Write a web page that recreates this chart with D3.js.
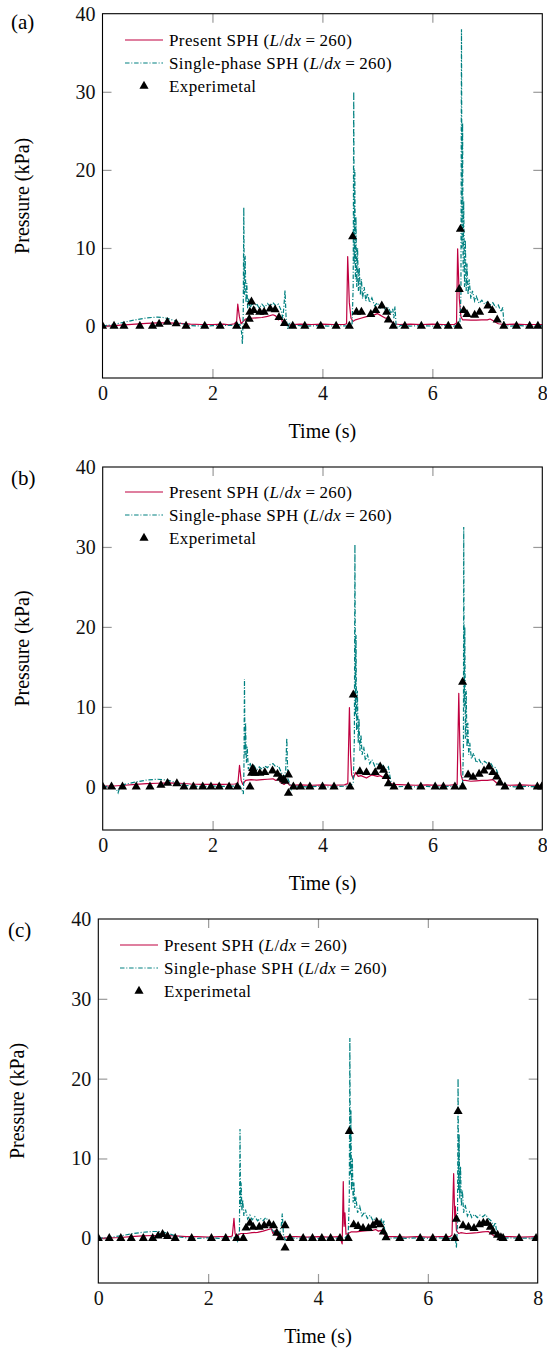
<!DOCTYPE html>
<html><head><meta charset="utf-8">
<script src="https://cdn.jsdelivr.net/npm/d3@7"></script>
<style>
body{margin:0;background:#fff;}
svg{display:block;}
svg text{font-family:"Liberation Serif","Times New Roman",serif !important;}
</style></head><body>
<svg id="chart" width="547" height="1349"></svg>
<script>
// ---------- tick labels ----------
const xTicks = [0, 2, 4, 6, 8];
const yTicks = [0, 10, 20, 30, 40];
const panelLabels = ["(a)", "(b)", "(c)"];
const xLabel = "Time (s)";
const yLabel = "Pressure (kPa)";
const seriesNames = ["Present SPH", "Single-phase SPH", "Experimetal"];

// ---------- panel (a) ----------
const presentA = [[0,0],[0.2,0.05],[0.4,0.15],[0.6,0.25],[0.8,0.35],[1.0,0.4],[1.2,0.4],[1.4,0.35],[1.6,0.25],[1.8,0.2],[2.0,0.2],[2.2,0.25],[2.3,0.15],[2.4,0.3],[2.44,0.6],[2.46,2.8],[2.49,1.2],[2.52,0.3],[2.56,0.6],[2.6,0.9],[2.7,1.0],[2.8,1.05],[2.9,1.1],[3.0,1.25],[3.1,1.45],[3.15,1.3],[3.2,0.8],[3.25,1.1],[3.28,0.3],[3.32,0.6],[3.36,0.1],[3.45,0.2],[3.6,0.25],[3.8,0.2],[4.0,0.25],[4.2,0.2],[4.4,0.2],[4.44,0.3],[4.46,8.9],[4.49,3.0],[4.52,1.0],[4.56,0.6],[4.6,0.8],[4.7,1.0],[4.8,1.2],[4.9,1.3],[5.0,1.6],[5.05,1.4],[5.1,1.2],[5.15,1.0],[5.2,1.1],[5.25,0.6],[5.3,0.3],[5.4,0.2],[5.6,0.25],[5.8,0.2],[6.0,0.25],[6.2,0.2],[6.4,0.2],[6.44,0.4],[6.46,9.9],[6.49,3.5],[6.52,1.2],[6.55,0.8],[6.6,0.8],[6.7,0.75],[6.8,0.75],[6.9,0.8],[7.0,0.8],[7.05,0.9],[7.1,0.7],[7.15,0.5],[7.2,0.3],[7.3,0.2],[7.5,0.25],[7.7,0.2],[8.0,0.2]];
const singleA = [[0,0],[0.2,0.2],[0.4,0.5],[0.6,0.8],[0.8,1.05],[1.0,1.15],[1.1,1.1],[1.2,0.95],[1.3,0.7],[1.4,0.4],[1.5,0.2],[1.6,0.05],[1.8,0],[2.0,0.05],[2.2,0.1],[2.4,0.1],[2.5,0.2],[2.53,-0.8],[2.545,-2.3],[2.56,1.5],[2.57,15.2],[2.58,4.0],[2.595,9.0],[2.61,3.0],[2.625,5.5],[2.64,2.3],[2.66,3.6],[2.68,2.2],[2.72,3.0],[2.76,2.2],[2.8,2.9],[2.85,2.3],[2.9,2.8],[2.95,2.4],[3.0,2.9],[3.05,2.5],[3.1,3.0],[3.15,2.6],[3.2,2.8],[3.25,2.0],[3.28,1.0],[3.3,2.5],[3.32,4.6],[3.34,1.0],[3.37,-0.4],[3.4,0.5],[3.45,-0.2],[3.5,0.1],[3.7,0],[3.9,0.05],[4.1,0],[4.3,0.05],[4.5,0],[4.54,0.3],[4.56,5],[4.57,30],[4.58,8],[4.59,20],[4.6,6],[4.61,14],[4.625,5],[4.64,10],[4.655,4.5],[4.67,7.5],[4.69,4],[4.71,6],[4.73,3.5],[4.76,5],[4.79,3.2],[4.82,4.2],[4.86,3.0],[4.9,3.6],[4.95,2.6],[5.0,3.0],[5.05,2.3],[5.1,2.7],[5.15,2.0],[5.2,2.4],[5.25,1.6],[5.28,2.2],[5.3,1.0],[5.32,2.5],[5.34,0.2],[5.38,-0.2],[5.42,0.1],[5.6,0],[5.8,0.05],[6.0,0],[6.2,0.05],[6.4,0],[6.5,0.2],[6.52,4],[6.53,38],[6.54,10],[6.55,26],[6.56,7],[6.57,16],[6.585,5],[6.6,11],[6.615,4.5],[6.63,8],[6.65,4],[6.67,6],[6.7,3.5],[6.73,4.5],[6.77,3.2],[6.8,3.8],[6.85,2.9],[6.9,3.3],[6.95,2.8],[7.0,3.1],[7.05,2.7],[7.1,3.0],[7.15,2.4],[7.2,2.7],[7.25,1.8],[7.28,2.4],[7.3,0.5],[7.33,0.1],[7.4,0],[7.6,0.05],[7.8,0],[8.0,0.05]];
const expA = [[0,0],[0.21,0],[0.39,0],[0.68,0],[0.91,0],[1.03,0.25],[1.18,0.5],[1.34,0.3],[1.52,0],[1.86,0],[2.14,0],[2.44,0],[2.61,0],[2.67,0.9],[2.68,1.8],[2.71,3.1],[2.75,2.0],[2.86,1.8],[2.94,1.8],[3.05,2.2],[3.14,2.1],[3.21,1.1],[3.31,0.35],[3.46,0],[3.68,0],[3.97,0],[4.25,0],[4.49,0],[4.55,11.45],[4.62,1.8],[4.71,1.8],[4.88,1.5],[4.97,2.0],[5.08,2.6],[5.17,1.8],[5.2,0.8],[5.29,0],[5.5,0],[5.8,0],[6.09,0],[6.29,0],[6.47,0],[6.49,4.7],[6.51,12.4],[6.57,2.0],[6.63,1.5],[6.77,1.4],[6.86,1.8],[7.01,2.6],[7.09,2.0],[7.18,0.8],[7.3,0],[7.53,0],[7.77,0],[7.92,0]];

// ---------- panel (b) ----------
const presentB = [[0,0.1],[0.2,0.1],[0.4,0.2],[0.6,0.3],[0.8,0.4],[1.0,0.45],[1.2,0.5],[1.4,0.45],[1.6,0.35],[1.8,0.3],[2.0,0.3],[2.2,0.3],[2.4,0.35],[2.46,0.4],[2.49,2.7],[2.52,0.8],[2.55,0.3],[2.6,0.8],[2.7,0.9],[2.8,0.85],[2.9,0.9],[3.0,0.95],[3.1,1.0],[3.15,0.8],[3.2,1.0],[3.25,0.5],[3.3,0.3],[3.35,0.6],[3.4,0.2],[3.6,0.25],[3.8,0.2],[4.0,0.25],[4.2,0.2],[4.4,0.25],[4.46,0.4],[4.49,9.9],[4.51,4],[4.53,1.5],[4.56,1.0],[4.6,1.8],[4.65,1.3],[4.7,1.4],[4.8,1.1],[4.9,1.5],[5.0,1.3],[5.05,1.4],[5.1,1.2],[5.15,1.4],[5.2,0.8],[5.25,0.4],[5.3,0.3],[5.5,0.25],[5.7,0.2],[5.9,0.25],[6.1,0.2],[6.3,0.2],[6.45,0.3],[6.48,11.7],[6.5,5],[6.52,1.5],[6.55,0.8],[6.6,0.8],[6.7,0.7],[6.8,0.75],[6.9,0.8],[7.0,0.8],[7.1,0.9],[7.15,0.6],[7.2,0.3],[7.4,0.2],[7.6,0.25],[7.8,0.2],[8.0,0.2]];
const singleB = [[0,0],[0.15,0.1],[0.25,-0.3],[0.28,-0.75],[0.32,0.1],[0.4,0.3],[0.6,0.6],[0.8,0.85],[1.0,0.95],[1.1,0.9],[1.2,0.8],[1.3,0.6],[1.4,0.4],[1.5,0.2],[1.6,0.1],[1.8,0.05],[2.0,0.1],[2.2,0.05],[2.4,0.1],[2.5,0.1],[2.54,-0.5],[2.56,-0.9],[2.57,2],[2.58,13.5],[2.59,4],[2.6,8],[2.615,3],[2.63,5],[2.65,2.2],[2.68,3.0],[2.72,2.2],[2.76,2.6],[2.8,2.1],[2.85,2.5],[2.9,2.2],[2.95,2.6],[3.0,2.4],[3.05,2.8],[3.1,2.9],[3.15,2.5],[3.2,2.6],[3.25,1.8],[3.3,1.2],[3.33,2.0],[3.35,6.1],[3.37,1.0],[3.4,0.5],[3.43,-0.3],[3.46,0.3],[3.5,0.1],[3.7,0],[3.9,0.05],[4.1,0],[4.3,0.05],[4.5,0.1],[4.56,0.5],[4.58,6],[4.59,30.3],[4.6,9],[4.61,19],[4.62,7],[4.635,12],[4.65,5.5],[4.665,8.5],[4.68,4.5],[4.7,6.5],[4.72,4],[4.75,5],[4.78,3.3],[4.82,4.0],[4.86,2.9],[4.9,3.4],[4.95,2.6],[5.0,3.0],[5.05,2.3],[5.1,2.7],[5.15,2.1],[5.2,2.5],[5.23,1.2],[5.26,0.2],[5.3,0],[5.5,0.05],[5.7,0],[5.9,0.05],[6.1,0],[6.3,0.05],[6.5,0.1],[6.55,0.5],[6.565,5],[6.57,32.5],[6.58,10],[6.59,20],[6.6,6],[6.615,12],[6.63,5],[6.645,8],[6.66,4],[6.68,5.5],[6.71,3.5],[6.75,4.2],[6.8,3.0],[6.85,3.4],[6.9,2.8],[6.95,3.2],[7.0,2.9],[7.05,3.1],[7.1,2.5],[7.15,2.4],[7.2,1.5],[7.25,0.5],[7.3,0.1],[7.5,0],[7.7,0.05],[8.0,0]];
const expB = [[0,0],[0.16,0],[0.36,0],[0.61,0],[0.86,0],[1.06,0.2],[1.18,0.45],[1.35,0.4],[1.48,0],[1.65,0],[1.82,0],[1.97,0],[2.12,0],[2.3,0],[2.45,0],[2.68,0],[2.71,1.7],[2.73,2.3],[2.77,1.7],[2.86,1.7],[2.95,1.8],[3.09,2.0],[3.18,1.6],[3.24,1.1],[3.29,0.9],[3.32,0.7],[3.38,1.5],[3.38,-0.8],[3.47,0],[3.6,0],[3.77,0],[4.0,0],[4.21,0],[4.5,0],[4.56,11.5],[4.68,1.9],[4.8,1.8],[4.96,1.8],[5.05,2.5],[5.11,2.1],[5.16,1.3],[5.2,0.4],[5.3,0],[5.56,0],[5.79,0],[6.05,0],[6.2,0],[6.41,0],[6.55,0],[6.55,13.1],[6.65,1.5],[6.74,1.2],[6.85,1.6],[6.94,2.0],[7.03,2.5],[7.1,1.8],[7.17,1.25],[7.23,0.5],[7.32,0],[7.59,0],[7.91,0],[7.99,0]];

// ---------- panel (c) ----------
const presentC = [[0,0],[0.2,0.05],[0.4,0.1],[0.6,0.2],[0.8,0.3],[1.0,0.35],[1.2,0.35],[1.4,0.3],[1.6,0.2],[1.8,0.2],[2.0,0.15],[2.2,0.2],[2.4,0.2],[2.44,0.3],[2.47,2.5],[2.49,0.6],[2.52,0.1],[2.56,0.5],[2.6,0.6],[2.7,0.6],[2.8,0.7],[2.9,0.75],[3.0,0.9],[3.1,1.1],[3.15,1.2],[3.18,0.6],[3.22,1.0],[3.26,0.3],[3.3,0.5],[3.35,0.1],[3.45,0.2],[3.6,0.2],[3.8,0.15],[4.0,0.2],[4.2,0.15],[4.4,0.2],[4.44,-0.7],[4.46,7.1],[4.475,1.5],[4.49,3.2],[4.51,0.5],[4.55,0.6],[4.6,0.8],[4.7,0.8],[4.8,0.9],[4.9,0.95],[5.0,1.0],[5.05,1.1],[5.1,0.9],[5.15,1.0],[5.2,0.5],[5.25,0.2],[5.4,0.2],[5.6,0.15],[5.8,0.2],[6.0,0.15],[6.2,0.2],[6.4,0.2],[6.44,0.4],[6.47,8.1],[6.49,2.5],[6.5,4],[6.52,1.0],[6.56,0.6],[6.6,0.7],[6.7,0.6],[6.8,0.65],[6.9,0.7],[7.0,0.8],[7.1,0.85],[7.15,0.6],[7.2,0.3],[7.3,0.2],[7.5,0.2],[7.7,0.15],[8.0,0.2]];
const singleC = [[0,0],[0.2,0.1],[0.4,0.3],[0.6,0.55],[0.8,0.75],[1.0,0.85],[1.1,0.85],[1.2,0.75],[1.3,0.55],[1.4,0.3],[1.5,0.15],[1.6,0.05],[1.8,0],[2.0,0.05],[2.2,0],[2.4,0.05],[2.5,0.1],[2.54,-0.5],[2.57,1.0],[2.58,13.7],[2.59,4.0],[2.6,7],[2.615,3.5],[2.63,4.8],[2.65,2.8],[2.68,3.6],[2.72,2.4],[2.76,2.9],[2.8,2.3],[2.85,2.7],[2.9,2.2],[2.95,2.5],[3.0,2.2],[3.05,2.6],[3.1,2.1],[3.15,1.2],[3.2,0.8],[3.25,1.0],[3.3,0.6],[3.33,1.5],[3.35,3.1],[3.37,0.5],[3.4,-0.2],[3.45,0.1],[3.6,0],[3.8,0.05],[4.0,0],[4.2,0.05],[4.4,0],[4.5,0.1],[4.55,0.5],[4.57,5],[4.58,25.1],[4.59,8],[4.6,16],[4.61,6],[4.625,10],[4.64,4.5],[4.655,7],[4.67,3.8],[4.69,5.2],[4.72,3.2],[4.76,4.0],[4.8,2.8],[4.85,3.3],[4.9,2.5],[4.95,2.9],[5.0,2.2],[5.05,2.6],[5.1,2.0],[5.15,2.4],[5.18,1.6],[5.2,2.2],[5.22,0.4],[5.26,0],[5.4,0.05],[5.6,0],[5.8,0.05],[6.0,0],[6.2,0.05],[6.4,0],[6.5,0.1],[6.52,-1.2],[6.54,2],[6.55,20],[6.56,6],[6.57,13],[6.58,5],[6.595,9],[6.61,4],[6.63,6],[6.65,3.2],[6.68,4.2],[6.72,2.8],[6.76,3.3],[6.8,2.6],[6.85,3.0],[6.9,2.6],[6.95,2.9],[7.0,2.7],[7.05,3.0],[7.1,2.5],[7.15,2.2],[7.2,1.5],[7.23,2.0],[7.26,0.3],[7.3,0],[7.5,0.05],[7.7,0],[8.0,0.05]];
const expC = [[0,0],[0.2,0],[0.41,0],[0.6,0],[0.82,0],[0.99,0],[1.09,0.3],[1.17,0.5],[1.26,0.25],[1.4,0],[1.7,0],[2.06,0],[2.32,0],[2.52,0],[2.64,0],[2.69,1.3],[2.76,1.9],[2.82,1.4],[2.93,1.4],[3.02,1.6],[3.11,1.8],[3.19,1.6],[3.25,0.65],[3.31,0.1],[3.4,1.6],[3.4,-1.2],[3.49,0],[3.73,0],[3.9,0],[4.07,0],[4.23,0],[4.4,0],[4.55,0],[4.57,13.4],[4.65,1.7],[4.73,1.5],[4.82,1.25],[4.92,1.25],[5.0,1.6],[5.07,2.0],[5.13,1.7],[5.19,0.8],[5.24,0.1],[5.49,0],[5.86,0],[6.09,0],[6.33,0],[6.49,0],[6.52,2.4],[6.55,15.9],[6.64,1.6],[6.74,1.4],[6.84,1.25],[6.94,1.7],[7.01,1.9],[7.08,1.9],[7.14,1.4],[7.19,0.8],[7.27,0.4],[7.33,0.1],[7.37,0],[7.66,0],[7.97,0]];

// ---------- drawing ----------
const RED = "#bf0040", TEAL = "#008080";
const FONT = "'Liberation Serif', 'Times New Roman', serif";
const svg = d3.select("#chart");

const panels = [
  {label: panelLabels[0], present: presentA, single: singleA, exp: expA,
   left: 102.5, right: 542.3, top: 13.7, bottom: 378, ymin: -6.65,
   labelX: 11, labelY: 29, yLabX: 22, legX: 125, legY: 40},
  {label: panelLabels[1], present: presentB, single: singleB, exp: expB,
   left: 102.7, right: 542.3, top: 467, bottom: 830, ymin: -5.4,
   labelX: 11, labelY: 485, yLabX: 22, legX: 125, legY: 492},
  {label: panelLabels[2], present: presentC, single: singleC, exp: expC,
   left: 98.3, right: 537.7, top: 919, bottom: 1283, ymin: -5.6,
   labelX: 8, labelY: 937, yLabX: 17, legX: 120, legY: 945}
];

panels.forEach((p, i) => {
  const x = d3.scaleLinear().domain([0, 8]).range([p.left, p.right]);
  const y = d3.scaleLinear().domain([p.ymin, 40]).range([p.bottom, p.top]);
  const g = svg.append("g").style("font-family", FONT);

  const clipId = "clip" + i;
  svg.append("clipPath").attr("id", clipId).append("rect")
    .attr("x", p.left).attr("y", p.top).attr("width", p.right - p.left).attr("height", p.bottom - p.top);

  // axes (ticks inside, all four sides)
  const tickLen = 9;
  const axB = g.append("g").attr("transform", `translate(0,${p.bottom})`)
    .call(d3.axisBottom(x).tickValues(xTicks).tickSizeInner(-tickLen).tickSizeOuter(0).tickPadding(8).tickFormat(d3.format("d")));
  const axT = g.append("g").attr("transform", `translate(0,${p.top})`)
    .call(d3.axisTop(x).tickValues(xTicks).tickSizeInner(-tickLen).tickSizeOuter(0).tickFormat(""));
  const axL = g.append("g").attr("transform", `translate(${p.left},0)`)
    .call(d3.axisLeft(y).tickValues(yTicks).tickSizeInner(-tickLen).tickSizeOuter(0).tickPadding(7).tickFormat(d3.format("d")));
  const axR = g.append("g").attr("transform", `translate(${p.right},0)`)
    .call(d3.axisRight(y).tickValues(yTicks).tickSizeInner(-tickLen).tickSizeOuter(0).tickFormat(""));
  [axB, axT, axL, axR].forEach(a => {
    a.attr("font-family", null).attr("font-size", null);
    a.select(".domain").remove();
    a.selectAll(".tick line").attr("stroke", "#9a9a9a").attr("stroke-width", 1.2);
    a.selectAll(".tick text").style("font-family", FONT).style("font-size", "20px").attr("fill", "#111");
  });
  axB.selectAll(".tick").filter(d => d === 0 || d === 8).select("line").remove();
  axT.selectAll(".tick").filter(d => d === 0 || d === 8).select("line").remove();
  axL.selectAll(".tick").filter(d => d === 40).select("line").remove();
  axR.selectAll(".tick").filter(d => d === 40).select("line").remove();

  // lines
  const line = d3.line().x(d => x(d[0])).y(d => y(d[1]));
  const plot = g.append("g").attr("clip-path", `url(#${clipId})`);
  plot.append("path").datum(p.present).attr("d", line)
    .attr("fill", "none").attr("stroke", RED).attr("stroke-width", 1.2).attr("stroke-linejoin", "round");
  plot.append("path").datum(p.single).attr("d", line)
    .attr("fill", "none").attr("stroke", TEAL).attr("stroke-width", 1.2)
    .attr("stroke-dasharray", "4.5,1.8,1,1.8");
  const tri = d3.symbol().type(d3.symbolTriangle).size(36);
  plot.selectAll("path.exp").data(p.exp).enter().append("path").attr("class", "exp")
    .attr("d", tri).attr("transform", d => `translate(${x(d[0])},${y(d[1])})`).attr("fill", "#000");

  // frame
  g.append("rect").attr("x", p.left).attr("y", p.top)
    .attr("width", p.right - p.left).attr("height", p.bottom - p.top)
    .attr("fill", "none").attr("stroke", "#000").attr("stroke-width", 1.1);

  // axis labels
  g.append("text").attr("x", (p.left + p.right) / 2).attr("y", p.bottom + 53)
    .attr("text-anchor", "middle").attr("dominant-baseline", "central")
    .style("font-family", FONT).style("font-size", "20px").text(xLabel);
  g.append("text").attr("transform", `translate(${p.yLabX},${(p.top + p.bottom) / 2}) rotate(-90)`)
    .attr("text-anchor", "middle").attr("dominant-baseline", "central")
    .style("font-family", FONT).style("font-size", "20px").text(yLabel);
  g.append("text").attr("x", p.labelX).attr("y", p.labelY)
    .style("font-family", FONT).style("font-size", "21px").text(p.label);

  // legend
  const lg = g.append("g");
  const rowH = 23;
  const sw = 38;
  function legText(yy, name) {
    const t = lg.append("text").attr("x", p.legX + sw + 6).attr("y", yy).attr("dominant-baseline", "central")
      .style("font-family", FONT).style("font-size", "17px").style("letter-spacing", "0.4px");
    t.append("tspan").text(name + " (");
    t.append("tspan").style("font-style", "italic").text("L");
    t.append("tspan").text("/");
    t.append("tspan").style("font-style", "italic").text("dx");
    t.append("tspan").attr("dx", 4).text("=");
    t.append("tspan").attr("dx", 4).text("260)");
  }
  lg.append("line").attr("x1", p.legX).attr("x2", p.legX + sw).attr("y1", p.legY).attr("y2", p.legY)
    .attr("stroke", RED).attr("stroke-width", 1.2);
  legText(p.legY, seriesNames[0]);
  lg.append("line").attr("x1", p.legX).attr("x2", p.legX + sw).attr("y1", p.legY + rowH).attr("y2", p.legY + rowH)
    .attr("stroke", TEAL).attr("stroke-width", 1.2).attr("stroke-dasharray", "4.5,1.8,1,1.8");
  legText(p.legY + rowH, seriesNames[1]);
  lg.append("path").attr("d", tri).attr("transform", `translate(${p.legX + sw / 2},${p.legY + 2 * rowH})`).attr("fill", "#000");
  lg.append("text").attr("x", p.legX + sw + 6).attr("y", p.legY + 2 * rowH).attr("dominant-baseline", "central")
    .style("font-family", FONT).style("font-size", "17px").style("letter-spacing", "0.4px").text(seriesNames[2]);
});
</script>
</body></html>
